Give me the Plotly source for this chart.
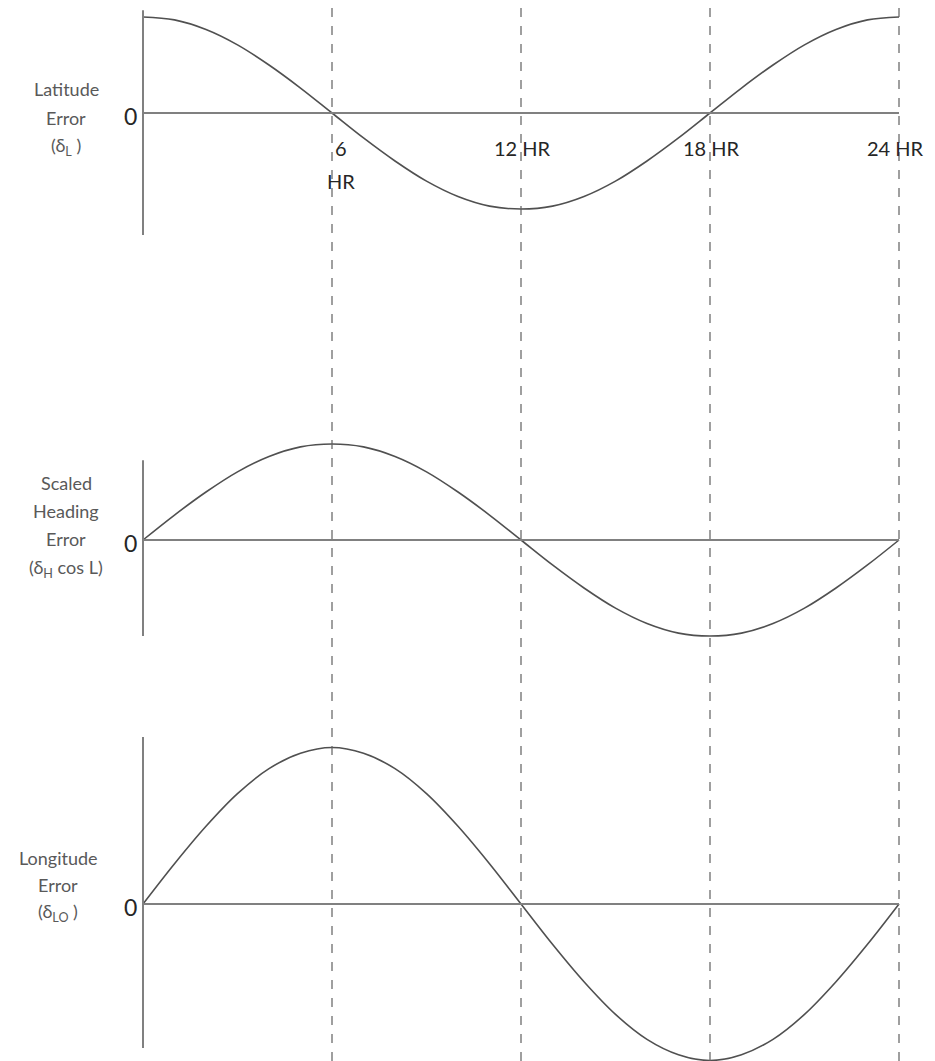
import plotly.graph_objects as go

# hours after start (0..24)
hours = list(range(0, 25))

# errors (one unit ~ latitude peak)
latitude_error = [1.0, 0.97, 0.87, 0.71, 0.5, 0.26, 0.0, -0.26, -0.5, -0.71, -0.87, -0.97, -1.0,
                  -0.97, -0.87, -0.71, -0.5, -0.26, 0.0, 0.26, 0.5, 0.71, 0.87, 0.97, 1.0]
heading_error = [0.0, 0.26, 0.5, 0.71, 0.87, 0.97, 1.0, 0.97, 0.87, 0.71, 0.5, 0.26, 0.0,
                 -0.26, -0.5, -0.71, -0.87, -0.97, -1.0, -0.97, -0.87, -0.71, -0.5, -0.26, 0.0]
longitude_error = [0.0, 0.42, 0.81, 1.15, 1.41, 1.57, 1.63, 1.57, 1.41, 1.15, 0.81, 0.42, 0.0,
                   -0.42, -0.81, -1.15, -1.41, -1.57, -1.63, -1.57, -1.41, -1.15, -0.81, -0.42, 0.0]

hour_marks = [6, 12, 18, 24]
hour_labels = ['6', '12 HR', '18 HR', '24 HR']
panel_labels = [['Latitude', 'Error', '(δ<sub>L</sub> )'],
                ['Scaled', 'Heading', 'Error', '(δ<sub>H</sub> cos L)'],
                ['Longitude', 'Error', '(δ<sub>LO</sub> )']]

W, H = 927, 1053      # page body adds 8px offset
OFF = 8
line_col = '#505050'
axis_col = '#808080'
font_fam = 'Lato, Open Sans, sans-serif'


def py(ref_px):
    # reference pixel row -> paper fraction
    return 1 - (ref_px - OFF) / H


fig = go.Figure()

series = [latitude_error, heading_error, longitude_error]
axes = ['y', 'y2', 'y3']
for vals, ax in zip(series, axes):
    fig.add_trace(go.Scatter(x=hours, y=vals, mode='lines', line_shape='spline',
                             line=dict(color=line_col, width=1.6), yaxis=ax,
                             hoverinfo='skip', showlegend=False))
    # zero line
    fig.add_trace(go.Scatter(x=[0, 24], y=[0, 0], mode='lines',
                             line=dict(color=axis_col, width=2), yaxis=ax,
                             hoverinfo='skip', showlegend=False))

# vertical axis lines per panel (extent in y units)
axis_extent = [(1.07, -1.27), (0.83, -1.0), (1.74, -1.5)]
for (top, bot), ax in zip(axis_extent, axes):
    fig.add_trace(go.Scatter(x=[0, 0], y=[top, bot], mode='lines',
                             line=dict(color=axis_col, width=2), yaxis=ax,
                             hoverinfo='skip', showlegend=False))

# dashed hour lines over the whole page
for h in hour_marks:
    fig.add_shape(type='line', xref='x', yref='paper', x0=h, x1=h, y0=0, y1=1,
                  line=dict(color='#606060', width=1.2, dash='dash'))

# panel text, one annotation per line
label_rows = [[89, 118, 147], [483, 511, 539, 568], [858, 885, 912]]
label_x = [66, 66, 58]
zero_rows = [116, 543, 907]
for lines, rows, lx, zr in zip(panel_labels, label_rows, label_x, zero_rows):
    for txt, r in zip(lines, rows):
        fig.add_annotation(x=(lx - OFF) / W, y=py(r), xref='paper', yref='paper', text=txt,
                           showarrow=False, xanchor='center', yanchor='middle',
                           font=dict(family=font_fam, size=18, color='#595959'))
    fig.add_annotation(x=(139 - OFF) / W, y=py(zr), xref='paper', yref='paper', text='0',
                       showarrow=False, xanchor='right', yanchor='middle',
                       font=dict(family=font_fam, size=23, color='#262626'))

hour_shift = {6: 0.27, 12: 0.05, 18: 0.05, 24: -0.1}
for h, txt in zip(hour_marks, hour_labels):
    fig.add_annotation(x=h + hour_shift[h], y=py(148), xref='x', yref='paper',
                       text=txt, showarrow=False, xanchor='center', yanchor='middle',
                       font=dict(family=font_fam, size=20, color='#262626'))
fig.add_annotation(x=6.27, y=py(181), xref='x', yref='paper', text='HR', showarrow=False,
                   xanchor='center', yanchor='middle',
                   font=dict(family=font_fam, size=20, color='#262626'))

px_per_unit = 96.0
px_per_hour = 31.5


def dom(top_px, bot_px, zero_px):
    top_px -= OFF
    bot_px -= OFF
    zero_px -= OFF
    return dict(domain=[1 - bot_px / H, 1 - top_px / H],
                range=[-(bot_px - zero_px) / px_per_unit, (zero_px - top_px) / px_per_unit],
                visible=False, anchor='x', fixedrange=True)


x0_px = 143 - OFF
fig.update_layout(
    width=W, height=H,
    margin=dict(l=0, r=0, t=0, b=0),
    plot_bgcolor='white', paper_bgcolor='white',
    xaxis=dict(range=[-x0_px / px_per_hour, (W - x0_px) / px_per_hour],
               visible=False, fixedrange=True),
    yaxis=dom(8, 250, 113),
    yaxis2=dom(420, 660, 540),
    yaxis3=dom(720, 1061, 904),
)

fig.write_html('out.html')
